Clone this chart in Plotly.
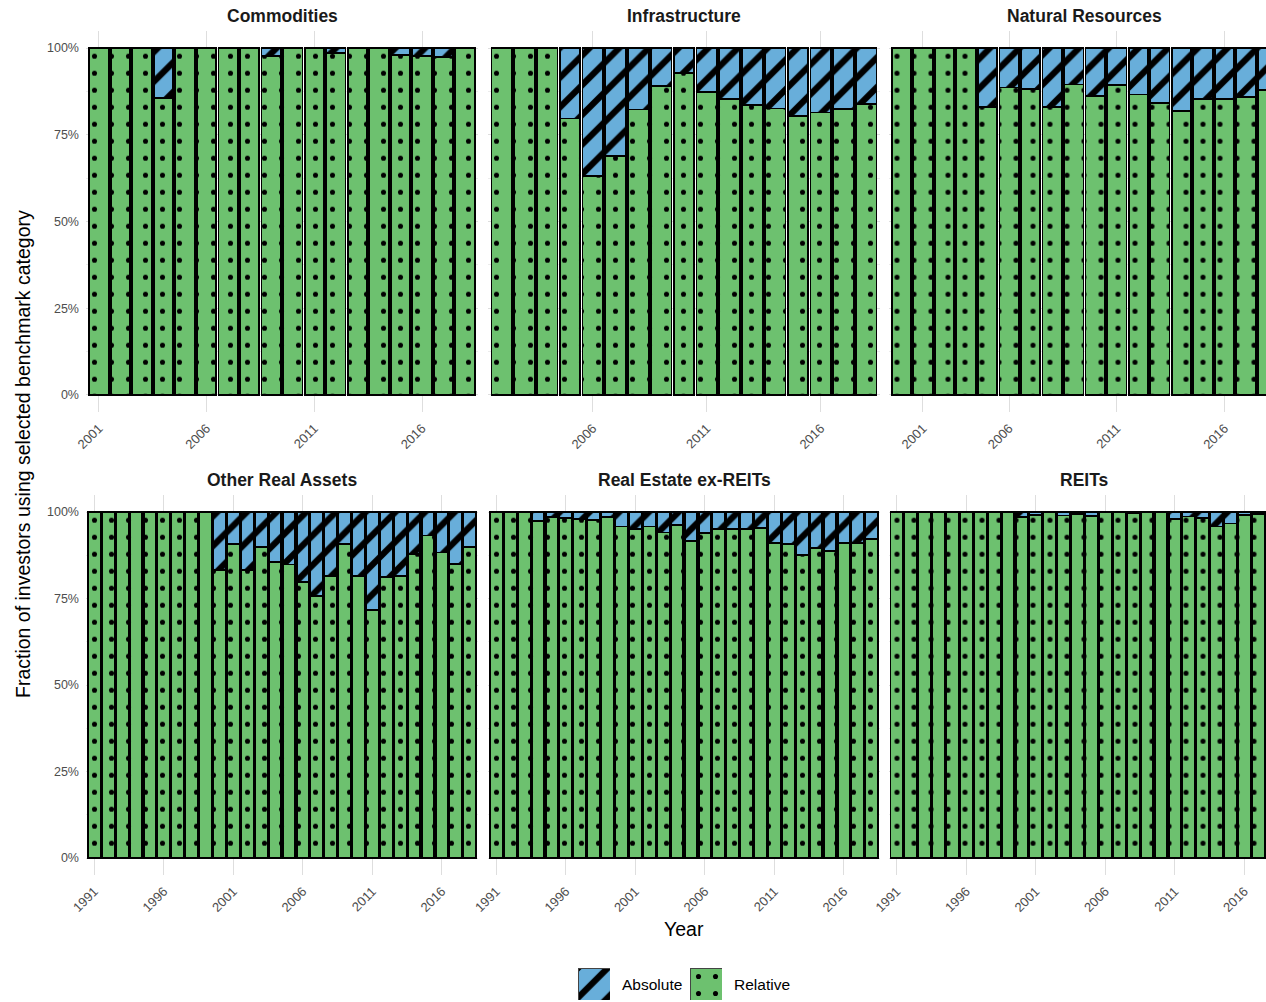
import plotly.graph_objects as go

# ---------------------------------------------------------------------------
# Data: share of investors using a relative benchmark, by year and category.
# The remainder of each bar (to 100%) is the share using an absolute one.
# ---------------------------------------------------------------------------
YEARS_COMMODITIES = [str(y) for y in range(2001, 2019)]
REL_COMMODITIES = [1.000, 1.000, 1.000, 0.857, 1.000, 1.000, 1.000, 1.000, 0.978,
                   1.000, 1.000, 0.985, 1.000, 1.000, 0.980, 0.977, 0.975, 1.000]

YEARS_INFRASTRUCTURE = [str(y) for y in range(2002, 2019)]
REL_INFRASTRUCTURE = [1.000, 1.000, 1.000, 0.797, 0.631, 0.689, 0.823, 0.891, 0.929,
                      0.874, 0.853, 0.836, 0.826, 0.805, 0.814, 0.824, 0.839]

YEARS_NATURAL_RES = ["2000", "2001", "2003", "2004", "2005"] + [str(y) for y in range(2006, 2019)]
REL_NATURAL_RES = [1.000, 1.000, 1.000, 1.000, 0.829, 0.886, 0.881, 0.829, 0.895,
                   0.862, 0.893, 0.866, 0.842, 0.819, 0.852, 0.852, 0.858, 0.879]

YEARS_LONG = [str(y) for y in range(1991, 2019)]
REL_OTHER_REAL = [1.000, 1.000, 1.000, 1.000, 1.000, 1.000, 1.000, 1.000, 1.000,
                  0.832, 0.908, 0.832, 0.898, 0.855, 0.848, 0.798, 0.758, 0.815,
                  0.908, 0.815, 0.717, 0.813, 0.815, 0.878, 0.932, 0.883, 0.849, 0.898]
REL_REAL_ESTATE = [1.000, 1.000, 1.000, 0.975, 0.985, 0.982, 0.979, 0.977, 0.985,
                   0.958, 0.950, 0.958, 0.941, 0.962, 0.917, 0.940, 0.950, 0.950,
                   0.950, 0.953, 0.911, 0.908, 0.876, 0.895, 0.887, 0.911, 0.911, 0.921]
REL_REITS = [1.000, 1.000, 1.000, 1.000, 1.000, 1.000, 1.000, 1.000, 1.000,
             0.985, 0.991, 1.000, 0.990, 0.995, 0.989, 1.000, 1.000, 0.997,
             1.000, 1.000, 0.979, 0.987, 0.982, 0.958, 0.967, 0.991, 0.995, 0.983]

PANEL_TITLES = ["Commodities", "Infrastructure", "Natural Resources",
                "Other Real Assets", "Real Estate ex-REITs", "REITs"]
PANEL_YEARS = [YEARS_COMMODITIES, YEARS_INFRASTRUCTURE, YEARS_NATURAL_RES,
               YEARS_LONG, YEARS_LONG, YEARS_LONG]
PANEL_REL = [REL_COMMODITIES, REL_INFRASTRUCTURE, REL_NATURAL_RES,
             REL_OTHER_REAL, REL_REAL_ESTATE, REL_REITS]

X_TICK_YEARS = ["1991", "1996", "2001", "2006", "2011", "2016"]
Y_TICKS = [0, 0.25, 0.5, 0.75, 1.0]
Y_TICK_LABELS = ["0%", "25%", "50%", "75%", "100%"]
Y_MINOR_TICKS = [0.125, 0.375, 0.625, 0.875]

SERIES = ["Absolute", "Relative"]

# ---------------------------------------------------------------------------
# Styling
# ---------------------------------------------------------------------------
W, H = 1266, 1002
FONT = "Liberation Sans, Arial, Helvetica, sans-serif"
GREEN = "#6DC16F"
BLUE = "#68AEDA"
GRID = "#DEDEDE"
GRID_MINOR = "#ECECEC"
TICK_COLOR = "#4D4D4D"

STYLE = {
    "Relative": dict(color=GREEN, shape=".", size=17, solidity=0.07),
    "Absolute": dict(color=BLUE, shape="/", size=21, solidity=0.30),
}

# Panel rectangles in pixels (left, right) per column and (top, bottom) per row
COL_X = [(86.0, 478.0), (488.0, 880.0), (888.5, 1280.5)]
ROW_Y = [(30.7, 412.3), (494.7, 875.3)]

fig = go.Figure()
layout = dict(
    width=W, height=H,
    margin=dict(l=0, r=0, t=0, b=0, autoexpand=False),
    paper_bgcolor="white", plot_bgcolor="white",
    barmode="stack", bargap=0.1,
    showlegend=False,
    font=dict(family=FONT, color=TICK_COLOR),
)
annotations = []


def marker_for(series):
    st = STYLE[series]
    return dict(
        color=st["color"],
        line=dict(color="black", width=1.8),
        pattern=dict(shape=st["shape"], fgcolor="black", bgcolor=st["color"],
                     size=st["size"], solidity=st["solidity"], fillmode="replace"),
    )


for i, (title, years, rel) in enumerate(zip(PANEL_TITLES, PANEL_YEARS, PANEL_REL)):
    row, col = divmod(i, 3)
    k = i + 1
    xname, yname = ("x", "y") if k == 1 else (f"x{k}", f"y{k}")
    xkey, ykey = ("xaxis", "yaxis") if k == 1 else (f"xaxis{k}", f"yaxis{k}")

    absolute = [round(1.0 - r, 3) for r in rel]

    fig.add_trace(go.Bar(x=years, y=rel, name="Relative", marker=marker_for("Relative"),
                         xaxis=xname, yaxis=yname, hoverinfo="x+y+name"))
    fig.add_trace(go.Bar(x=years, y=absolute, name="Absolute", marker=marker_for("Absolute"),
                         xaxis=xname, yaxis=yname, hoverinfo="x+y+name"))

    x0, x1 = COL_X[col]
    y0, y1 = ROW_Y[row]
    vis_x1 = min(x1, W)
    n = len(years)
    full_units = n - 1 + 1.2
    px_per_unit = (x1 - x0) / full_units
    x_range = [-0.6, -0.6 + (vis_x1 - x0) / px_per_unit]

    layout[xkey] = dict(
        domain=[x0 / W, vis_x1 / W], anchor=yname, automargin=False,
        type="category", categoryorder="array", categoryarray=years,
        range=x_range, tickmode="array",
        tickvals=[y for y in X_TICK_YEARS if y in years],
        tickangle=-45, tickfont=dict(family=FONT, size=13, color=TICK_COLOR),
        showgrid=True, gridcolor=GRID, gridwidth=1.3,
        showline=False, zeroline=False, ticks="", ticklabelstandoff=5,
    )
    layout[ykey] = dict(
        domain=[1 - y1 / H, 1 - y0 / H], anchor=xname, automargin=False,
        range=[-0.05, 1.05], tickmode="array",
        tickvals=Y_TICKS, ticktext=Y_TICK_LABELS,
        showticklabels=(col == 0),
        tickfont=dict(family=FONT, size=12.5, color=TICK_COLOR),
        showgrid=True, gridcolor=GRID, gridwidth=1.3,
        minor=dict(tickmode="array", tickvals=Y_MINOR_TICKS, showgrid=True,
                   gridcolor=GRID_MINOR, gridwidth=0.7),
        showline=False, zeroline=False, ticks="", ticklabelstandoff=6,
    )

    annotations.append(dict(
        text=f"<b>{title}</b>", xref="paper", yref="paper",
        x=((x0 + x1) / 2) / W, y=1 - (y0 - 14.5) / H,
        xanchor="center", yanchor="middle", showarrow=False,
        font=dict(family=FONT, size=17.5, color="#1A1A1A"),
    ))

# Axis titles
annotations.append(dict(
    text="Year", xref="paper", yref="paper", x=684 / W, y=1 - 929 / H,
    xanchor="center", yanchor="middle", showarrow=False,
    font=dict(family=FONT, size=19.5, color="black"),
))
annotations.append(dict(
    text="Fraction of investors using selected benchmark category",
    xref="paper", yref="paper", x=23 / W, y=1 - 454 / H, textangle=-90,
    xanchor="center", yanchor="middle", showarrow=False,
    font=dict(family=FONT, size=19.5, color="black"),
))

# Legend: one patterned key per series, drawn on small dedicated axes
KEY_BOXES = {"Absolute": (578, 610), "Relative": (690, 722)}
KEY_Y = (968, 1000)
for j, series in enumerate(SERIES):
    k = 7 + j
    xname, yname = f"x{k}", f"y{k}"
    kx0, kx1 = KEY_BOXES[series]
    m = marker_for(series)
    m["line"] = dict(color="#444444", width=1)
    fig.add_trace(go.Bar(x=[series], y=[1], width=[1.0], marker=m, name=series,
                         xaxis=xname, yaxis=yname, hoverinfo="name"))
    layout[f"xaxis{k}"] = dict(domain=[kx0 / W, kx1 / W], anchor=yname, range=[-0.5, 0.5],
                               type="category", visible=False, fixedrange=True,
                               automargin=False)
    layout[f"yaxis{k}"] = dict(domain=[1 - KEY_Y[1] / H, 1 - KEY_Y[0] / H], anchor=xname,
                               range=[0, 1], visible=False, fixedrange=True,
                               automargin=False)
    annotations.append(dict(
        text=series, xref="paper", yref="paper", x=(kx1 + 10) / W, y=1 - 984 / H,
        xanchor="left", yanchor="middle", showarrow=False,
        font=dict(family=FONT, size=15.5, color="black"),
    ))

layout["annotations"] = annotations
fig.update_layout(**layout)
fig.write_html("out.html")
